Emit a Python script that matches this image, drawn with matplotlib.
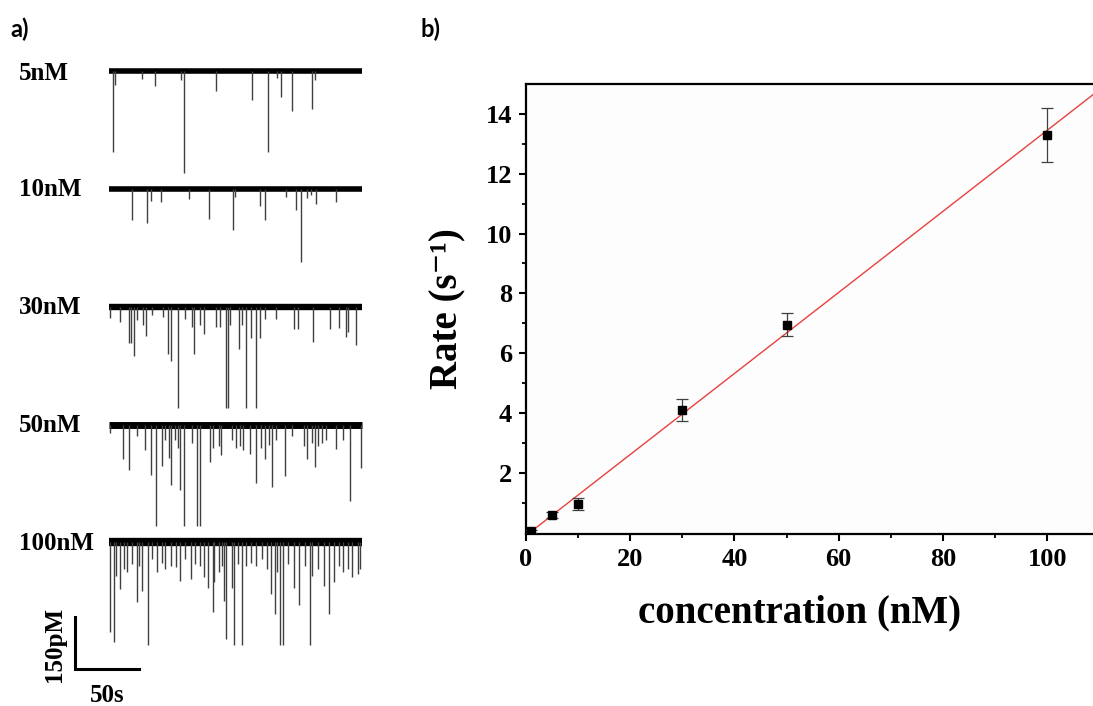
import numpy as np
import matplotlib
matplotlib.use("Agg")
import matplotlib.pyplot as plt

matplotlib.rcParams.update({'font.family': ['Liberation Serif', 'DejaVu Serif'],
                            'font.weight': 'bold', 'axes.labelweight': 'bold'})

# ---------------- panel a data: spike time (s), amplitude (pA) ----------------
labels = ["5nM", "10nM", "30nM", "50nM", "100nM"]
offsets = [0, -340, -680, -1020, -1360]

t_5 = [3.1, 4.7, 26, 36, 56, 58.3, 83.6, 111.7, 124.2, 131, 134.6, 143, 158.6, 161]
a_5 = [234, 41, 24, 43, 26, 293, 59, 85, 234, 19, 74, 115, 111, 26]

t_10 = [17.7, 30, 33, 40.6, 62.5, 78, 97, 98.4, 117.7, 121.6, 138.5, 146.4, 149.7,
        155, 157.8, 161.5, 177.6]
a_10 = [91, 99, 34, 38, 29, 88, 120, 24, 48, 91, 24, 61, 211, 26, 19, 45, 38]

t_30 = [0.5, 8.3, 15.6, 17.2, 19.3, 22.1, 26.8, 28.6, 33.9, 42.4, 45.8, 48.2, 54.2,
        59.4, 64.6, 66.1, 71.1, 74, 83.6, 86.7, 91.1, 93.2, 94.8, 101.6, 103.6, 106.8,
        111, 114.6, 117.7, 121.9, 130.2, 144.5, 147.4, 159.1, 172.4, 179.7, 184.9,
        186.5, 193]
a_30 = [32, 45, 106, 106, 141, 38, 53, 85, 24, 29, 137, 157, 293, 34, 58, 137, 53,
        80, 58, 58, 293, 293, 53, 123, 53, 293, 89, 293, 89, 34, 36, 65, 65, 101, 64,
        61, 87, 72, 109]

t_50 = [0.5, 10.9, 15.6, 22.1, 28.1, 32.8, 37, 41.1, 43.8, 46.9, 48.4, 51.6, 53.6,
        55.7, 58.3, 64.6, 69, 71.4, 78.6, 81.3, 85.9, 87.5, 95.8, 99, 102, 104.7,
        109.9, 114.6, 118.8, 121.6, 125, 127.6, 130.7, 137.5, 143.2, 152.1, 154.4,
        158.3, 161.2, 163.5, 166.7, 169.3, 177.6, 182.8, 188, 196.6]
a_50 = [24, 99, 130, 34, 72, 144, 293, 118, 43, 96, 173, 43, 67, 189, 293, 53, 293,
        293, 109, 67, 62, 89, 43, 67, 62, 72, 84, 168, 67, 99, 58, 180, 43, 149, 34,
        62, 99, 53, 122, 62, 53, 43, 70, 43, 221, 125]

t_100 = [1, 3.6, 5.7, 8.9, 11.5, 14.3, 18.2, 21.6, 23.4, 26, 30.2, 33.9, 37.8, 41.1,
         43.8, 48.2, 52.1, 55.2, 59.4, 64, 67.2, 71.1, 74.5, 77.6, 81.3, 82.3, 85.9,
         88.5, 90.1, 91.7, 95.8, 97.4, 100.5, 103.6, 106.8, 110.9, 114.6, 119.8,
         123.4, 126.8, 129.7, 131.3, 133.9, 136, 140.1, 144.3, 148.4, 153.1, 156.8,
         158.9, 163.5, 167.7, 171.9, 175.5, 179.7, 182.8, 187, 190.1, 194.3, 196.4]
a_100 = [259, 288, 96, 134, 77, 86, 62, 173, 67, 139, 296, 48, 84, 58, 77, 67, 72,
         110, 48, 104, 62, 67, 101, 130, 202, 115, 86, 67, 168, 278, 130, 296, 62, 296,
         67, 58, 67, 48, 77, 149, 206, 86, 296, 296, 62, 130, 180, 67, 296, 96, 77,
         125, 206, 115, 67, 86, 77, 101, 91, 77]

spike_t = [t_5, t_10, t_30, t_50, t_100]
spike_a = [a_5, a_10, a_30, a_50, a_100]
t_end = 198

# ---------------- panel b data ----------------
conc = [1, 5, 10, 30, 50, 100]
rate = [0.05, 0.6, 0.95, 4.1, 6.95, 13.3]
rate_err = [0.05, 0.1, 0.2, 0.38, 0.38, 0.9]

W, H = 1093, 706
fig = plt.figure(figsize=(W / 100, H / 100), dpi=100)

# ---------------- panel a ----------------
px_s = 64 / 50.0      # pixels per second
px_pA = 52 / 150.0    # pixels per pA
axa = fig.add_axes([0, 0, 400 / W, 1])
axa.set_xlim(-109 / px_s, (400 - 109) / px_s)
axa.set_ylim(-(H - 71) / px_pA, 71 / px_pA)
axa.axis('off')

band_lw = [4.0, 4.0, 4.6, 5.0, 6.0]
for i in range(len(labels)):
    off = offsets[i]
    axa.plot([0, t_end], [off, off], color='black', lw=band_lw[i], solid_capstyle='butt')
    tt = np.array(spike_t[i])
    aa = np.array(spike_a[i])
    axa.vlines(tt, off, off - aa, color='0.25', lw=1.0)

# scale bar
axa.plot([-26.6, -26.6, 23.4], [-1575, -1725, -1725], color='black', lw=2.2,
         solid_joinstyle='miter')

label_y = [73, 190, 307, 426, 543]
for i, lab in enumerate(labels):
    fig.text(19 / W, 1 - label_y[i] / H, lab, fontsize=18, ha='left', va='center')
fig.text(54 / W, 1 - 644 / H, "150pM", fontsize=18, rotation=90, ha='center', va='center')
fig.text(107 / W, 1 - 695 / H, "50s", fontsize=18, ha='center', va='center')

fig.text(10 / W, 1 - 29 / H, "a)", family='Lato', fontweight='bold', fontsize=17,
         ha='left', va='center')
fig.text(420 / W, 1 - 29 / H, "b)", family='Lato', fontweight='bold', fontsize=17,
         ha='left', va='center')

# ---------------- panel b ----------------
axb = fig.add_axes([526 / W, 1 - 534 / H, (W - 526) / W, 450 / H])
slope, icpt = np.polyfit(conc, rate, 1)
xf = np.array([conc[0], 112])
axb.plot(xf, slope * xf + icpt, color='#e8413c', lw=1.0, zorder=2)
axb.errorbar(conc, rate, yerr=rate_err, fmt='s', color='black', ms=6,
             ecolor='0.25', elinewidth=0.9, capsize=4.5, capthick=0.9, zorder=3)

axb.set_xlim(0, 108.8)
axb.set_ylim(-0.05, 15)
axb.set_xticks([0, 20, 40, 60, 80, 100])
axb.set_xticks([10, 30, 50, 70, 90], minor=True)
axb.set_yticks([2, 4, 6, 8, 10, 12, 14])
axb.set_yticks([1, 3, 5, 7, 9, 11, 13], minor=True)
axb.tick_params(which='major', direction='out', length=5, width=1.5, labelsize=19, pad=5)
axb.tick_params(which='minor', direction='out', length=3, width=1.3)
axb.spines['right'].set_visible(False)
for s in ['left', 'bottom', 'top']:
    axb.spines[s].set_linewidth(1.6)
axb.set_facecolor('#fdfdfd')
axb.set_xlabel("concentration (nM)", fontsize=28, labelpad=10)
axb.xaxis.set_label_coords(0.482, -0.135)
axb.set_ylabel("Rate (s\u207b\u00b9)", fontsize=28, labelpad=14)

fig.savefig("out.png", dpi=100)
